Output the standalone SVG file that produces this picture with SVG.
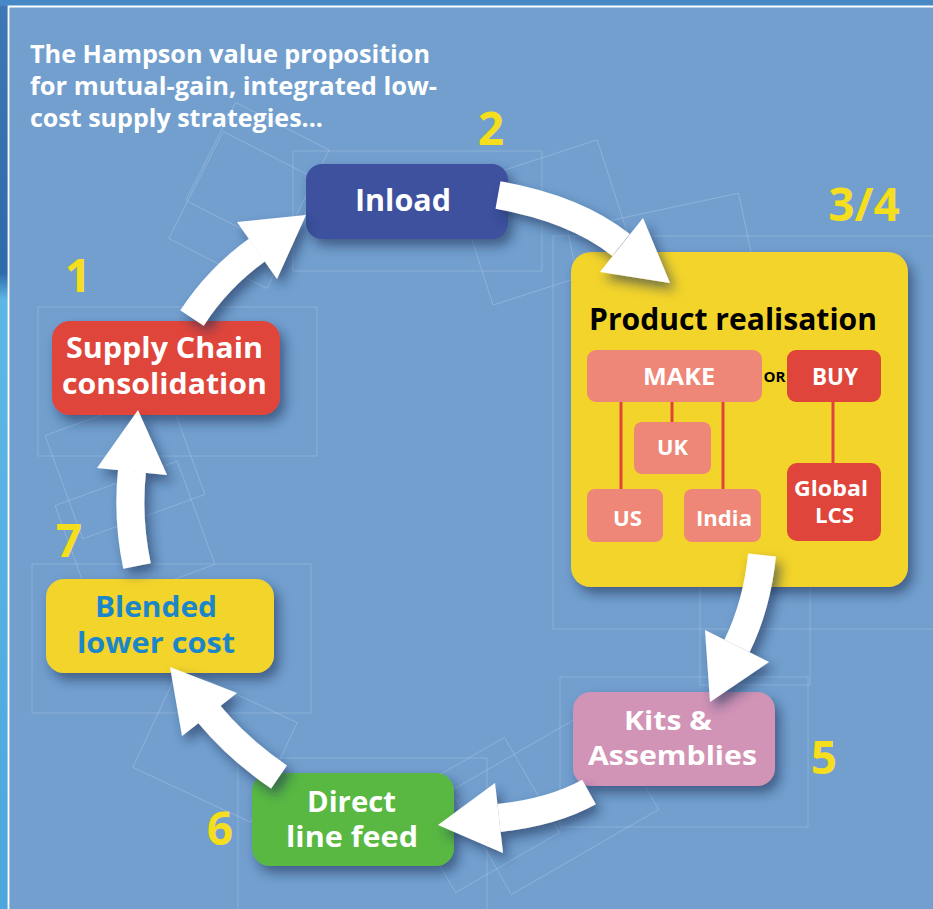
<svg xmlns="http://www.w3.org/2000/svg" width="933" height="909" viewBox="0 0 933 909">
<defs>
<style>
.t{font-family:"Open Sans","Liberation Sans",sans-serif;font-weight:700;}
.w{fill:#ffffff;}
.c{text-anchor:middle;}
.num{font-family:"Open Sans","Liberation Sans",sans-serif;font-weight:700;font-size:46px;fill:#f5de1e;text-anchor:middle;}
.guide{fill:none;stroke:#b9d0ea;stroke-width:0.8;opacity:0.45;}
.shaft{fill:none;stroke:#ffffff;stroke-width:28;stroke-linecap:butt;}
.head{fill:#ffffff;}
.link{stroke:#e0453b;stroke-width:3;}
</style>
<filter id="sh" x="-30%" y="-30%" width="170%" height="170%">
<feDropShadow dx="5" dy="7" stdDeviation="6" flood-color="#1c3558" flood-opacity="0.6"/>
</filter>
<linearGradient id="edge" x1="0" y1="0" x2="0" y2="1">
<stop offset="0" stop-color="#3f78b4"/>
<stop offset="0.3" stop-color="#2f6aa9"/>
<stop offset="0.33" stop-color="#5db7e6"/>
<stop offset="1" stop-color="#4ea7dc"/>
</linearGradient>
</defs>

<!-- background -->
<rect x="0" y="0" width="933" height="909" fill="#729fce"/>
<rect x="0" y="0" width="9" height="909" fill="url(#edge)"/>
<rect x="0" y="0" width="933" height="6" fill="#4789c6"/>
<path d="M8.5,909 V6.5 H933" fill="none" stroke="#ffffff" stroke-width="1.8"/>

<!-- faint guide lines -->
<g id="guides">
<rect class="guide" x="293" y="151" width="249" height="120"/>
<rect class="guide" x="38" y="307" width="279" height="149"/>
<rect class="guide" x="32" y="564" width="279" height="149"/>
<rect class="guide" x="238" y="758" width="249" height="160"/>
<rect class="guide" x="560" y="677" width="248" height="150"/>
<rect class="guide" x="553" y="236" width="390" height="393"/>
<rect class="guide" x="700" y="540" width="110" height="145"/>
<rect class="guide" x="190" y="150" width="110" height="120" transform="rotate(27 245 210)"/>
<rect class="guide" x="205" y="120" width="105" height="110" transform="rotate(27 257 175)"/>
<rect class="guide" x="470" y="160" width="150" height="125" transform="rotate(-18 545 222)"/>
<rect class="guide" x="580" y="210" width="175" height="140" transform="rotate(-12 667 280)"/>
<rect class="guide" x="60" y="410" width="130" height="110" transform="rotate(-20 125 465)"/>
<rect class="guide" x="70" y="480" width="130" height="110" transform="rotate(-20 135 535)"/>
<rect class="guide" x="150" y="690" width="130" height="110" transform="rotate(25 215 745)"/>
<rect class="guide" x="420" y="760" width="120" height="110" transform="rotate(-30 480 815)"/>
<rect class="guide" x="470" y="740" width="170" height="120" transform="rotate(-30 555 800)"/>
</g>

<!-- nodes -->
<g id="node-inload">
<rect x="306" y="164" width="202" height="75" rx="16" fill="#3e519e" filter="url(#sh)"/>
<text class="t w c" x="403" y="211" font-size="30" textLength="96" lengthAdjust="spacingAndGlyphs">Inload</text>
<text class="num" x="491" y="145">2</text>
</g>

<g id="node-product">
<rect x="571" y="252" width="337" height="335" rx="20" fill="#f3d42b" filter="url(#sh)"/>
<text class="t c" x="733" y="330" font-size="31" fill="#000000" textLength="288" lengthAdjust="spacingAndGlyphs">Product realisation</text>
<text class="num" x="864" y="221">3/4</text>
<g id="pr-links">
<line class="link" x1="621" y1="400" x2="621" y2="491"/>
<line class="link" x1="672" y1="400" x2="672" y2="424"/>
<line class="link" x1="723" y1="400" x2="723" y2="491"/>
<line class="link" x1="833" y1="400" x2="833" y2="465"/>
</g>
<g id="pr-make">
<rect x="587" y="350" width="175" height="52" rx="9" fill="#ee8778"/>
<text class="t w c" x="679" y="385" font-size="23" textLength="72" lengthAdjust="spacingAndGlyphs">MAKE</text>
</g>
<text class="t c" x="774.5" y="382" font-size="15" fill="#000000" textLength="22" lengthAdjust="spacingAndGlyphs">OR</text>
<g id="pr-buy">
<rect x="787" y="350" width="94" height="52" rx="9" fill="#e0453b"/>
<text class="t w c" x="835" y="385" font-size="23" textLength="46" lengthAdjust="spacingAndGlyphs">BUY</text>
</g>
<g id="pr-uk">
<rect x="634" y="422" width="77" height="52" rx="8" fill="#ee8778"/>
<text class="t w c" x="672.5" y="455" font-size="22" textLength="31" lengthAdjust="spacingAndGlyphs">UK</text>
</g>
<g id="pr-us">
<rect x="587" y="489" width="76" height="53" rx="8" fill="#ee8778"/>
<text class="t w c" x="627.5" y="526" font-size="22" textLength="29" lengthAdjust="spacingAndGlyphs">US</text>
</g>
<g id="pr-india">
<rect x="684" y="489" width="77" height="53" rx="8" fill="#ee8778"/>
<text class="t w c" x="724" y="526" font-size="22" textLength="56" lengthAdjust="spacingAndGlyphs">India</text>
</g>
<g id="pr-global">
<rect x="787" y="463" width="94" height="78" rx="10" fill="#e0453b"/>
<text class="t w c" x="831" y="496" font-size="21" textLength="74" lengthAdjust="spacingAndGlyphs">Global</text>
<text class="t w c" x="834.5" y="523" font-size="21" textLength="39" lengthAdjust="spacingAndGlyphs">LCS</text>
</g>
</g>

<g id="node-kits">
<rect x="573" y="692" width="202" height="94" rx="18" fill="#d193b6" filter="url(#sh)"/>
<text class="t w c" x="668" y="730" font-size="27" textLength="88" lengthAdjust="spacingAndGlyphs">Kits &amp;</text>
<text class="t w c" x="672.5" y="765" font-size="27" textLength="169" lengthAdjust="spacingAndGlyphs">Assemblies</text>
<text class="num" x="824" y="774">5</text>
</g>

<g id="node-direct">
<rect x="252" y="773" width="202" height="93" rx="18" fill="#58b843" filter="url(#sh)"/>
<text class="t w c" x="351.5" y="812" font-size="28" textLength="89" lengthAdjust="spacingAndGlyphs">Direct</text>
<text class="t w c" x="352" y="847" font-size="28" textLength="132" lengthAdjust="spacingAndGlyphs">line feed</text>
<text class="num" x="220" y="845">6</text>
</g>

<g id="node-blended">
<rect x="46" y="579" width="228" height="94" rx="18" fill="#f3d42b" filter="url(#sh)"/>
<text class="t c" x="156" y="617" font-size="28" fill="#1b86c9" textLength="122" lengthAdjust="spacingAndGlyphs">Blended</text>
<text class="t c" x="156" y="653" font-size="28" fill="#1b86c9" textLength="158" lengthAdjust="spacingAndGlyphs">lower cost</text>
<text class="num" x="69" y="557">7</text>
</g>

<g id="node-supply">
<rect x="52" y="321" width="228" height="94" rx="18" fill="#e0453b" filter="url(#sh)"/>
<text class="t w c" x="164.5" y="358" font-size="28" textLength="197" lengthAdjust="spacingAndGlyphs">Supply Chain</text>
<text class="t w c" x="164.5" y="394" font-size="28" textLength="205" lengthAdjust="spacingAndGlyphs">consolidation</text>
<text class="num" x="78" y="292">1</text>
</g>

<!-- connectors -->
<g id="connectors" filter="url(#sh)">
<g id="arrow-1-2">
<path class="shaft" d="M192,318 Q218,278 257,250"/>
<polygon class="head" points="306,215 237,222 277,279"/>
</g>
<g id="arrow-2-3">
<path class="shaft" d="M498,195 Q576,209 621,245"/>
<polygon class="head" points="670,283 600,272 643,218"/>
</g>
<g id="arrow-3-5">
<path class="shaft" d="M762,555 Q757,605 737,646"/>
<polygon class="head" points="710,702 705,630 769,662"/>
</g>
<g id="arrow-5-6">
<path class="shaft" d="M589,792 Q553,812 499,818"/>
<polygon class="head" points="438,825 495,783 503,853"/>
</g>
<g id="arrow-6-7">
<path class="shaft" d="M279,777 Q238,749 209,714"/>
<polygon class="head" points="170,667 182,736 237,693"/>
</g>
<g id="arrow-7-1">
<path class="shaft" d="M137,566 Q127,518 132,471"/>
<polygon class="head" points="138,410 97,468 167,475"/>
</g>
</g>

<!-- title -->
<g id="title" class="t w">
<text x="30" y="63" font-size="25" textLength="400" lengthAdjust="spacingAndGlyphs">The Hampson value proposition</text>
<text x="30" y="95" font-size="25" textLength="407" lengthAdjust="spacingAndGlyphs">for mutual-gain, integrated low-</text>
<text x="30" y="127" font-size="25" textLength="293" lengthAdjust="spacingAndGlyphs">cost supply strategies...</text>
</g>
</svg>
